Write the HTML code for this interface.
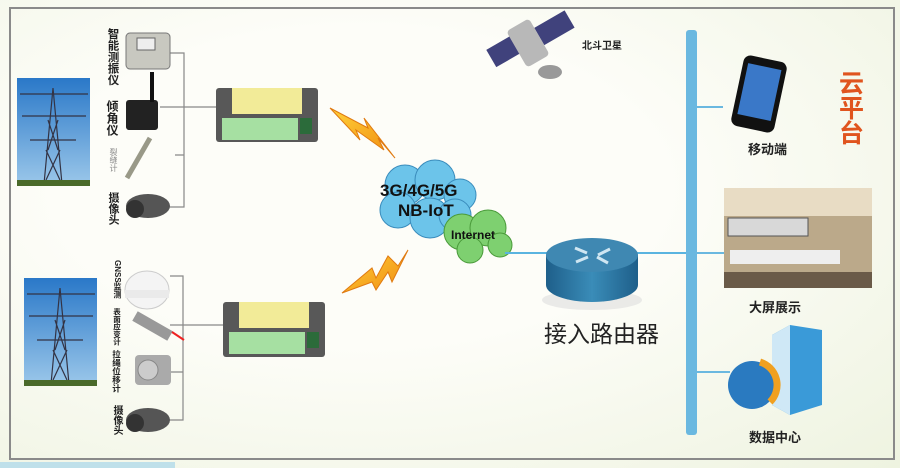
<!DOCTYPE html>
<html><head><meta charset="utf-8"><style>
body{margin:0;width:900px;height:468px;overflow:hidden;background:#f6f8ee;font-family:"Liberation Sans","Noto Sans CJK SC",sans-serif;}
.a{position:absolute}
.v{writing-mode:vertical-rl;font-weight:bold;color:#222;line-height:1}
</style></head><body>
<div class="a" style="left:0;top:0;width:900px;height:468px;background:radial-gradient(ellipse at 40% 40%,#fdfdf8 40%,#eef3e0 100%)"></div>
<div class="a" style="left:9px;top:7px;width:882px;height:449px;border:2px solid #8a8a8a"></div>
<div class="a" style="left:0;top:462px;width:175px;height:6px;background:#bfe0ea"></div>

<svg class="a" style="left:0;top:0" width="900" height="468">
<defs>
<linearGradient id="sky" x1="0" y1="0" x2="0" y2="1"><stop offset="0" stop-color="#2a78c8"/><stop offset="1" stop-color="#9cc8ea"/></linearGradient>
<linearGradient id="bolt" x1="0" y1="0" x2="1" y2="1"><stop offset="0" stop-color="#ffd23a"/><stop offset="1" stop-color="#f08a10"/></linearGradient>
<linearGradient id="rt" x1="0" y1="0" x2="1" y2="0"><stop offset="0" stop-color="#1e5f8a"/><stop offset=".5" stop-color="#3a8cb8"/><stop offset="1" stop-color="#1e5f8a"/></linearGradient>
</defs>
<rect x="17" y="78" width="73" height="108" fill="url(#sky)"/>
<rect x="24" y="278" width="73" height="108" fill="url(#sky)"/>
<g stroke="#334" stroke-width="1.2" fill="none">
<path d="M53 88 L44 184 M53 88 L62 184 M20 94 L88 94 M22 116 L86 116 M30 140 L76 140 M48 120 L58 150 M58 120 L48 150 M46 150 L60 180 M60 150 L46 180"/>
<path d="M60 288 L51 384 M60 288 L69 384 M27 294 L95 294 M29 316 L93 316 M37 340 L83 340 M55 320 L65 350 M65 320 L55 350 M53 350 L67 380 M67 350 L53 380"/>
</g>
<rect x="17" y="180" width="73" height="6" fill="#4a6a2a"/>
<rect x="24" y="380" width="73" height="6" fill="#4a6a2a"/>
<g stroke="#888" stroke-width="1.2" fill="none">
<path d="M168 53 H184 V207 H160 M160 107 H220 M175 155 H184"/>
<path d="M170 276 H183 V420 H162 M170 325 H225 M170 372 H183"/>
</g>
<rect x="126" y="33" width="44" height="36" rx="4" fill="#c8c8c0" stroke="#777"/>
<rect x="137" y="38" width="18" height="12" fill="#eee" stroke="#666"/>
<rect x="126" y="100" width="32" height="30" rx="3" fill="#222"/>
<rect x="150" y="72" width="4" height="30" fill="#111"/>
<path d="M127 178 L150 138" stroke="#998" stroke-width="5"/>
<ellipse cx="148" cy="206" rx="22" ry="12" fill="#555"/><circle cx="135" cy="209" r="9" fill="#333"/>
<ellipse cx="147" cy="290" rx="22" ry="19" fill="#f4f4f4" stroke="#ccc"/><rect x="125" y="290" width="44" height="8" fill="#eaeaea"/>
<path d="M135 316 L170 336" stroke="#999" stroke-width="11"/>
<path d="M172 332 L184 340" stroke="#e22" stroke-width="2"/>
<rect x="135" y="355" width="36" height="30" rx="4" fill="#aaa"/><circle cx="148" cy="370" r="10" fill="#ccc" stroke="#888"/>
<ellipse cx="148" cy="420" rx="22" ry="12" fill="#555"/><circle cx="135" cy="423" r="9" fill="#333"/>
<g>
<rect x="216" y="88" width="102" height="54" rx="3" fill="#585858"/>
<rect x="232" y="88" width="70" height="26" fill="#f2eb98"/>
<rect x="222" y="118" width="76" height="22" fill="#a6e0a2"/>
<rect x="300" y="118" width="12" height="16" fill="#2b6b3a"/>
</g>
<g>
<rect x="223" y="302" width="102" height="55" rx="3" fill="#585858"/>
<rect x="239" y="302" width="70" height="26" fill="#f2eb98"/>
<rect x="229" y="332" width="76" height="22" fill="#a6e0a2"/>
<rect x="307" y="332" width="12" height="16" fill="#2b6b3a"/>
</g>
<path d="M330 108 L368 128 L364 118 L395 158 L378 138 L384 150 L356 130 L360 140 Z" fill="url(#bolt)" stroke="#e07a10" stroke-width="1"/>
<path d="M342 293 L372 268 L376 278 L388 256 L398 266 L408 250 L392 282 L388 272 L376 290 L372 282 Z" fill="url(#bolt)" stroke="#e07a10" stroke-width="1"/>
<g fill="#6cc4ea" stroke="#3a8cbc" stroke-width="1">
<circle cx="405" cy="185" r="20"/><circle cx="435" cy="180" r="20"/><circle cx="460" cy="195" r="16"/><circle cx="398" cy="210" r="18"/><circle cx="430" cy="218" r="20"/><circle cx="455" cy="215" r="16"/>
</g>
<g fill="#7ed070" stroke="#4a9a3a" stroke-width="1">
<circle cx="462" cy="232" r="18"/><circle cx="488" cy="228" r="18"/><circle cx="500" cy="245" r="12"/><circle cx="470" cy="250" r="13"/>
</g>
<path d="M505 253 H700" stroke="#5ab4e0" stroke-width="2"/>
<ellipse cx="592" cy="300" rx="50" ry="10" fill="#ddd" opacity=".6"/>
<path d="M546 255 V285 A46 17 0 0 0 638 285 V255 Z" fill="url(#rt)"/>
<ellipse cx="592" cy="255" rx="46" ry="17" fill="#3f88b2"/>
<g stroke="#cfe6f2" stroke-width="3"><path d="M575 248 L587 253 M610 249 L598 255 M576 262 L588 257 M608 263 L597 257"/></g>
<rect x="686" y="30" width="11" height="405" rx="3" fill="#6ab8e0"/>
<g stroke="#6ab8e0" stroke-width="2"><path d="M697 107 H723 M697 253 H724 M697 372 H730"/></g>
<rect x="489" y="40" width="35" height="20" fill="#40427c" transform="rotate(-30 506 50)"/>
<rect x="537" y="18" width="35" height="20" fill="#40427c" transform="rotate(-30 554 28)"/>
<rect x="515" y="22" width="26" height="42" rx="4" fill="#b8b8b8" transform="rotate(-30 528 43)"/>
<ellipse cx="550" cy="72" rx="12" ry="7" fill="#999"/>
<rect x="737" y="58" width="44" height="72" rx="7" fill="#111" transform="rotate(12 759 94)"/>
<rect x="742" y="66" width="34" height="52" fill="#3a78c8" transform="rotate(12 759 94)"/>
<rect x="724" y="188" width="148" height="100" fill="#bba98a"/>
<rect x="724" y="188" width="148" height="28" fill="#e8dcc4"/>
<rect x="728" y="218" width="80" height="18" fill="#d8d8d8" stroke="#555"/>
<rect x="730" y="250" width="110" height="14" fill="#eee"/>
<rect x="724" y="272" width="148" height="16" fill="#6a5a48"/>
<path d="M772 335 L790 325 L822 330 L822 405 L790 415 L772 405 Z" fill="#3a9ad8"/>
<path d="M772 335 L790 325 L790 415 L772 405 Z" fill="#cfe8f6"/>
<circle cx="752" cy="385" r="24" fill="#2a7ac0"/>
<path d="M760 362 A24 24 0 0 1 770 402" stroke="#f0a020" stroke-width="7" fill="none"/>
</svg>

<div class="a v" style="left:106px;top:28px;font-size:11.5px">智能测振仪</div>
<div class="a v" style="left:106px;top:100px;font-size:12px">倾角仪</div>
<div class="a v" style="left:109px;top:148px;font-size:8px;color:#888;font-weight:normal">裂缝计</div>
<div class="a v" style="left:107px;top:192px;font-size:11px">摄像头</div>
<div class="a v" style="left:113px;top:260px;font-size:8px">GNSS监测</div>
<div class="a v" style="left:113px;top:308px;font-size:7.5px">表面应变计</div>
<div class="a v" style="left:112px;top:350px;font-size:8.5px">拉绳位移计</div>
<div class="a v" style="left:111px;top:405px;font-size:10px">摄像头</div>
<div class="a" style="left:380px;top:181px;font-size:17px;font-weight:bold;color:#111">3G/4G/5G</div>
<div class="a" style="left:398px;top:201px;font-size:17px;font-weight:bold;color:#111">NB-IoT</div>
<div class="a" style="left:451px;top:228px;font-size:12px;font-weight:bold;color:#111">Internet</div>
<div class="a" style="left:544px;top:315px;font-size:23px;color:#222">接入路由器</div>
<div class="a" style="left:582px;top:37px;font-size:10px;font-weight:bold;color:#222">北斗卫星</div>
<div class="a" style="left:748px;top:139px;font-size:13px;font-weight:bold;color:#222">移动端</div>
<div class="a v" style="left:835px;top:70px;font-size:25px;color:#e0541e;line-height:1.1">云平台</div>
<div class="a" style="left:749px;top:297px;font-size:13px;font-weight:bold;color:#222">大屏展示</div>
<div class="a" style="left:749px;top:427px;font-size:13px;font-weight:bold;color:#222">数据中心</div>
</body></html>
